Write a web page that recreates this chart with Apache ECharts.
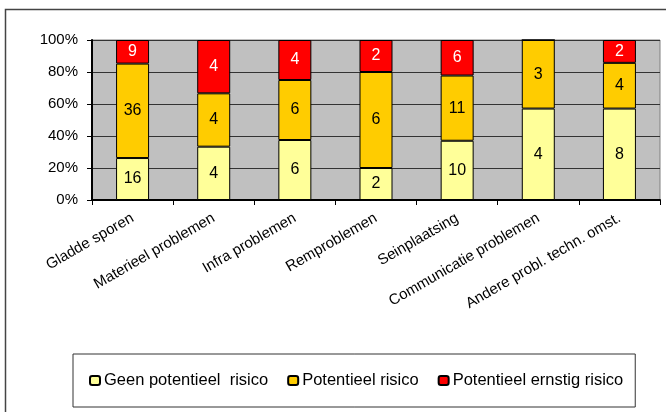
<!DOCTYPE html>
<html>
<head>
<meta charset="utf-8">
<script src="https://cdn.jsdelivr.net/npm/echarts@6/dist/echarts.min.js"></script>
<style>
html,body{margin:0;padding:0;background:#fff;}
#chart{width:666px;height:412px;}
</style>
</head>
<body>
<div id="chart"></div>
<script>
var categories = ['Gladde sporen', 'Materieel problemen', 'Infra problemen', 'Remproblemen', 'Seinplaatsing', 'Communicatie problemen', 'Andere probl. techn. omst.'];
var seriesNames = ['Geen potentieel  risico', 'Potentieel risico', 'Potentieel ernstig risico'];
var geenRisico = [16, 4, 6, 2, 10, 4, 8];
var potentieelRisico = [36, 4, 6, 6, 11, 3, 4];
var ernstigRisico = [9, 4, 4, 2, 6, 0, 2];
var yTicks = [0, 20, 40, 60, 80, 100];

var FONT = '"Liberation Sans", Arial, sans-serif';
var raw = [geenRisico, potentieelRisico, ernstigRisico];
var colors = ['#FFFF99', '#FFCC00', '#FF0000'];
var labelColors = ['#000', '#000', '#fff'];
var totals = categories.map(function (c, i) { return raw[0][i] + raw[1][i] + raw[2][i]; });

var series = raw.map(function (arr, s) {
  return {
    name: seriesNames[s],
    type: 'bar',
    stack: 'total',
    barWidth: 33,
    data: arr.map(function (v, i) { return { value: v / totals[i] * 100, raw: v }; }),
    itemStyle: { color: colors[s], borderColor: '#000', borderWidth: 1 },
    label: {
      show: true,
      position: 'inside',
      color: labelColors[s],
      fontFamily: FONT,
      fontSize: 16,
      formatter: function (p) { return p.data.raw ? String(p.data.raw) : ''; }
    },
    emphasis: { disabled: true }
  };
});

var chart = echarts.init(document.getElementById('chart'), null, { renderer: 'canvas' });
chart.setOption({
  animation: false,
  backgroundColor: '#fff',
  textStyle: { fontFamily: FONT },
  graphic: [
    { type: 'rect', shape: { x: 5.5, y: 9.5, width: 700, height: 500 }, style: { fill: 'none', stroke: '#444', lineWidth: 1.5 }, silent: true, z: -1 }
  ],
  grid: { left: 92, right: 6, top: 40, bottom: 212, backgroundColor: '#C0C0C0', show: true, borderColor: '#808080', borderWidth: 1 },
  legend: {
    data: seriesNames,
    left: 73,
    top: 354,
    orient: 'horizontal',
    padding: [18, 12, 18, 16],
    itemGap: 19,
    itemWidth: 10,
    itemHeight: 9,
    borderColor: '#333',
    borderWidth: 1,
    textStyle: { fontFamily: FONT, fontSize: 16.5, color: '#000', padding: [0, 0, 0, -1] }
  },
  xAxis: {
    type: 'category',
    data: categories,
    axisLine: { lineStyle: { color: '#000', width: 2 } },
    axisTick: { show: true, length: 5, lineStyle: { color: '#000' } },
    axisLabel: { rotate: 30, margin: 17, fontFamily: FONT, fontSize: 15, color: '#000', interval: 0 }
  },
  yAxis: {
    type: 'value',
    min: yTicks[0],
    max: yTicks[yTicks.length - 1],
    interval: 20,
    axisLine: { show: true, lineStyle: { color: '#000', width: 2 } },
    axisTick: { show: true, length: 5, lineStyle: { color: '#000' } },
    axisLabel: { margin: 14, fontFamily: FONT, fontSize: 15, color: '#000', formatter: '{value}%' },
    splitLine: { show: true, lineStyle: { color: '#333', width: 1 } }
  },
  series: series
});
</script>
</body>
</html>
